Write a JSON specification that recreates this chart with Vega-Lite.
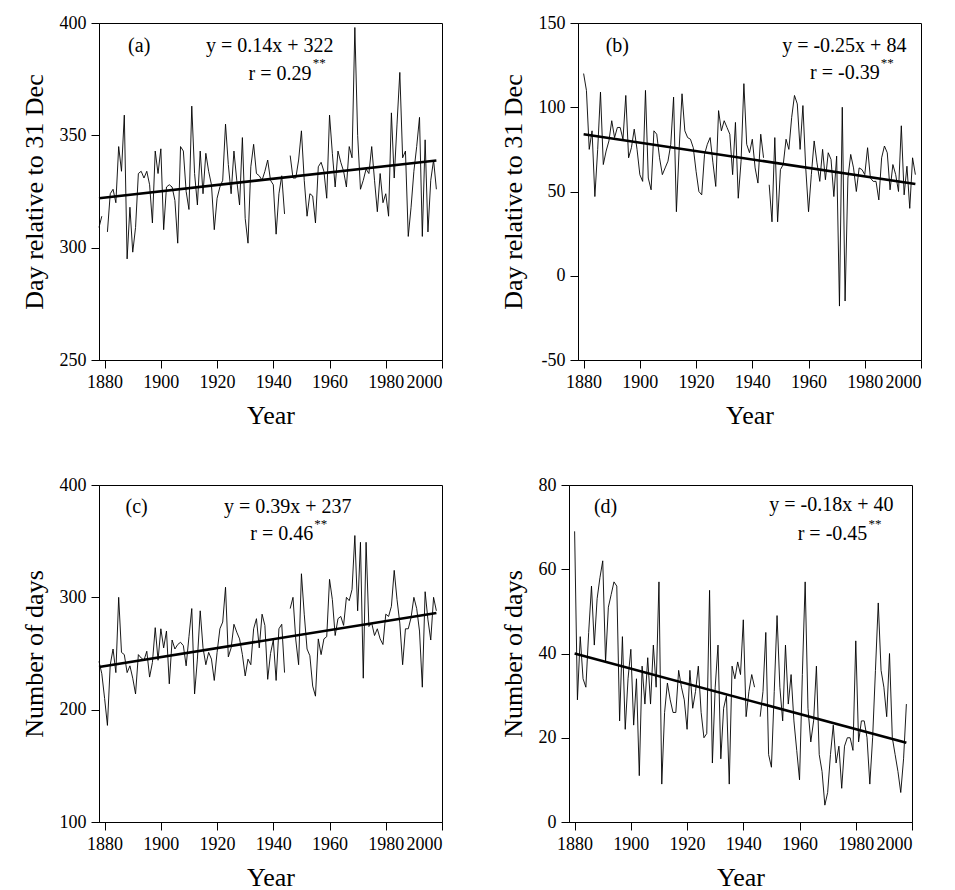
{
  "$schema": "https://vega.github.io/schema/vega-lite/v6.json",
  "padding": {"left": 20, "top": 13, "right": 0, "bottom": 0},
  "config": {
    "font": "Liberation Serif",
    "view": {"stroke": "black", "strokeWidth": 1},
    "axis": {"domainColor": "black", "tickColor": "black", "labelColor": "black", "titleColor": "black", "labelFont": "Liberation Serif", "titleFont": "Liberation Serif", "labelFontSize": 18, "titleFontSize": 26, "titleFontWeight": "normal", "grid": false, "tickSize": 8, "labelPadding": 5},
    "axisY": {"titlePadding": 12, "labelExpr": "replace(datum.label, '\u2212', '-')"},
    "axisX": {"titlePadding": 11},
    "text": {"font": "Liberation Serif", "fontSize": 20, "color": "black"}
  },
  "datasets": {
    "a": [
      {"year":1878,"v":309},{"year":1879,"v":314},{"year":1880,"v":null},{"year":1881,"v":307},{"year":1882,"v":324},{"year":1883,"v":326},{"year":1884,"v":320},{"year":1885,"v":345},{"year":1886,"v":334},{"year":1887,"v":359},{"year":1888,"v":295},{"year":1889,"v":318},{"year":1890,"v":298},{"year":1891,"v":309},{"year":1892,"v":333},{"year":1893,"v":334},{"year":1894,"v":331},{"year":1895,"v":334},{"year":1896,"v":328},{"year":1897,"v":311},{"year":1898,"v":343},{"year":1899,"v":333},{"year":1900,"v":344},{"year":1901,"v":308},{"year":1902,"v":327},{"year":1903,"v":328},{"year":1904,"v":327},{"year":1905,"v":321},{"year":1906,"v":302},{"year":1907,"v":345},{"year":1908,"v":343},{"year":1909,"v":325},{"year":1910,"v":317},{"year":1911,"v":363},{"year":1912,"v":333},{"year":1913,"v":319},{"year":1914,"v":343},{"year":1915,"v":324},{"year":1916,"v":342},{"year":1917,"v":334},{"year":1918,"v":328},{"year":1919,"v":308},{"year":1920,"v":322},{"year":1921,"v":327},{"year":1922,"v":330},{"year":1923,"v":355},{"year":1924,"v":337},{"year":1925,"v":324},{"year":1926,"v":343},{"year":1927,"v":330},{"year":1928,"v":319},{"year":1929,"v":349},{"year":1930,"v":313},{"year":1931,"v":302},{"year":1932,"v":336},{"year":1933,"v":346},{"year":1934,"v":333},{"year":1935,"v":332},{"year":1936,"v":330},{"year":1937,"v":334},{"year":1938,"v":339},{"year":1939,"v":330},{"year":1940,"v":328},{"year":1941,"v":306},{"year":1942,"v":324},{"year":1943,"v":332},{"year":1944,"v":315},{"year":1945,"v":null},{"year":1946,"v":341},{"year":1947,"v":331},{"year":1948,"v":331},{"year":1949,"v":339},{"year":1950,"v":352},{"year":1951,"v":330},{"year":1952,"v":314},{"year":1953,"v":324},{"year":1954,"v":323},{"year":1955,"v":311},{"year":1956,"v":336},{"year":1957,"v":338},{"year":1958,"v":334},{"year":1959,"v":322},{"year":1960,"v":359},{"year":1961,"v":342},{"year":1962,"v":327},{"year":1963,"v":343},{"year":1964,"v":338},{"year":1965,"v":334},{"year":1966,"v":327},{"year":1967,"v":345},{"year":1968,"v":340},{"year":1969,"v":398},{"year":1970,"v":350},{"year":1971,"v":326},{"year":1972,"v":330},{"year":1973,"v":335},{"year":1974,"v":333},{"year":1975,"v":345},{"year":1976,"v":330},{"year":1977,"v":316},{"year":1978,"v":333},{"year":1979,"v":320},{"year":1980,"v":324},{"year":1981,"v":314},{"year":1982,"v":360},{"year":1983,"v":331},{"year":1984,"v":355},{"year":1985,"v":378},{"year":1986,"v":340},{"year":1987,"v":343},{"year":1988,"v":305},{"year":1989,"v":318},{"year":1990,"v":334},{"year":1991,"v":345},{"year":1992,"v":358},{"year":1993,"v":305},{"year":1994,"v":348},{"year":1995,"v":307},{"year":1996,"v":330},{"year":1997,"v":339},{"year":1998,"v":326}
    ],
    "b": [
      {"year":1880,"v":120},{"year":1881,"v":110},{"year":1882,"v":75},{"year":1883,"v":86},{"year":1884,"v":47},{"year":1885,"v":75},{"year":1886,"v":109},{"year":1887,"v":66},{"year":1888,"v":74},{"year":1889,"v":80},{"year":1890,"v":92},{"year":1891,"v":82},{"year":1892,"v":88},{"year":1893,"v":88},{"year":1894,"v":81},{"year":1895,"v":107},{"year":1896,"v":70},{"year":1897,"v":76},{"year":1898,"v":87},{"year":1899,"v":75},{"year":1900,"v":60},{"year":1901,"v":56},{"year":1902,"v":110},{"year":1903,"v":58},{"year":1904,"v":51},{"year":1905,"v":86},{"year":1906,"v":84},{"year":1907,"v":70},{"year":1908,"v":60},{"year":1909,"v":64},{"year":1910,"v":68},{"year":1911,"v":78},{"year":1912,"v":106},{"year":1913,"v":38},{"year":1914,"v":76},{"year":1915,"v":108},{"year":1916,"v":86},{"year":1917,"v":82},{"year":1918,"v":81},{"year":1919,"v":76},{"year":1920,"v":62},{"year":1921,"v":50},{"year":1922,"v":48},{"year":1923,"v":72},{"year":1924,"v":78},{"year":1925,"v":82},{"year":1926,"v":67},{"year":1927,"v":53},{"year":1928,"v":98},{"year":1929,"v":86},{"year":1930,"v":92},{"year":1931,"v":88},{"year":1932,"v":84},{"year":1933,"v":60},{"year":1934,"v":91},{"year":1935,"v":46},{"year":1936,"v":68},{"year":1937,"v":114},{"year":1938,"v":78},{"year":1939,"v":73},{"year":1940,"v":81},{"year":1941,"v":64},{"year":1942,"v":55},{"year":1943,"v":84},{"year":1944,"v":70},{"year":1945,"v":null},{"year":1946,"v":54},{"year":1947,"v":32},{"year":1948,"v":82},{"year":1949,"v":32},{"year":1950,"v":63},{"year":1951,"v":66},{"year":1952,"v":81},{"year":1953,"v":75},{"year":1954,"v":94},{"year":1955,"v":107},{"year":1956,"v":102},{"year":1957,"v":75},{"year":1958,"v":101},{"year":1959,"v":64},{"year":1960,"v":38},{"year":1961,"v":60},{"year":1962,"v":80},{"year":1963,"v":67},{"year":1964,"v":56},{"year":1965,"v":75},{"year":1966,"v":57},{"year":1967,"v":73},{"year":1968,"v":69},{"year":1969,"v":47},{"year":1970,"v":71},{"year":1971,"v":-18},{"year":1972,"v":100},{"year":1973,"v":-15},{"year":1974,"v":58},{"year":1975,"v":72},{"year":1976,"v":64},{"year":1977,"v":50},{"year":1978,"v":64},{"year":1979,"v":63},{"year":1980,"v":60},{"year":1981,"v":76},{"year":1982,"v":58},{"year":1983,"v":56},{"year":1984,"v":56},{"year":1985,"v":45},{"year":1986,"v":70},{"year":1987,"v":77},{"year":1988,"v":73},{"year":1989,"v":51},{"year":1990,"v":66},{"year":1991,"v":60},{"year":1992,"v":50},{"year":1993,"v":89},{"year":1994,"v":48},{"year":1995,"v":65},{"year":1996,"v":40},{"year":1997,"v":70},{"year":1998,"v":60}
    ],
    "c": [
      {"year":1878,"v":243},{"year":1879,"v":232},{"year":1880,"v":210},{"year":1881,"v":186},{"year":1882,"v":240},{"year":1883,"v":254},{"year":1884,"v":233},{"year":1885,"v":300},{"year":1886,"v":251},{"year":1887,"v":249},{"year":1888,"v":233},{"year":1889,"v":239},{"year":1890,"v":228},{"year":1891,"v":214},{"year":1892,"v":249},{"year":1893,"v":246},{"year":1894,"v":244},{"year":1895,"v":252},{"year":1896,"v":229},{"year":1897,"v":242},{"year":1898,"v":273},{"year":1899,"v":244},{"year":1900,"v":272},{"year":1901,"v":255},{"year":1902,"v":270},{"year":1903,"v":223},{"year":1904,"v":262},{"year":1905,"v":254},{"year":1906,"v":258},{"year":1907,"v":260},{"year":1908,"v":257},{"year":1909,"v":239},{"year":1910,"v":265},{"year":1911,"v":290},{"year":1912,"v":214},{"year":1913,"v":245},{"year":1914,"v":288},{"year":1915,"v":255},{"year":1916,"v":240},{"year":1917,"v":251},{"year":1918,"v":245},{"year":1919,"v":226},{"year":1920,"v":251},{"year":1921,"v":272},{"year":1922,"v":278},{"year":1923,"v":309},{"year":1924,"v":247},{"year":1925,"v":255},{"year":1926,"v":276},{"year":1927,"v":269},{"year":1928,"v":263},{"year":1929,"v":249},{"year":1930,"v":230},{"year":1931,"v":245},{"year":1932,"v":240},{"year":1933,"v":272},{"year":1934,"v":281},{"year":1935,"v":255},{"year":1936,"v":285},{"year":1937,"v":275},{"year":1938,"v":227},{"year":1939,"v":250},{"year":1940,"v":262},{"year":1941,"v":226},{"year":1942,"v":272},{"year":1943,"v":276},{"year":1944,"v":233},{"year":1945,"v":null},{"year":1946,"v":290},{"year":1947,"v":300},{"year":1948,"v":262},{"year":1949,"v":240},{"year":1950,"v":321},{"year":1951,"v":285},{"year":1952,"v":254},{"year":1953,"v":248},{"year":1954,"v":221},{"year":1955,"v":212},{"year":1956,"v":263},{"year":1957,"v":249},{"year":1958,"v":263},{"year":1959,"v":265},{"year":1960,"v":316},{"year":1961,"v":298},{"year":1962,"v":266},{"year":1963,"v":281},{"year":1964,"v":283},{"year":1965,"v":275},{"year":1966,"v":300},{"year":1967,"v":297},{"year":1968,"v":307},{"year":1969,"v":355},{"year":1970,"v":288},{"year":1971,"v":349},{"year":1972,"v":228},{"year":1973,"v":349},{"year":1974,"v":274},{"year":1975,"v":277},{"year":1976,"v":266},{"year":1977,"v":272},{"year":1978,"v":263},{"year":1979,"v":258},{"year":1980,"v":285},{"year":1981,"v":283},{"year":1982,"v":292},{"year":1983,"v":324},{"year":1984,"v":298},{"year":1985,"v":277},{"year":1986,"v":240},{"year":1987,"v":272},{"year":1988,"v":272},{"year":1989,"v":282},{"year":1990,"v":300},{"year":1991,"v":290},{"year":1992,"v":270},{"year":1993,"v":220},{"year":1994,"v":305},{"year":1995,"v":280},{"year":1996,"v":262},{"year":1997,"v":300},{"year":1998,"v":288}
    ],
    "d": [
      {"year":1880,"v":69},{"year":1881,"v":29},{"year":1882,"v":44},{"year":1883,"v":34},{"year":1884,"v":32},{"year":1885,"v":45},{"year":1886,"v":56},{"year":1887,"v":42},{"year":1888,"v":53},{"year":1889,"v":58},{"year":1890,"v":62},{"year":1891,"v":38},{"year":1892,"v":51},{"year":1893,"v":54},{"year":1894,"v":57},{"year":1895,"v":56},{"year":1896,"v":24},{"year":1897,"v":44},{"year":1898,"v":22},{"year":1899,"v":34},{"year":1900,"v":41},{"year":1901,"v":23},{"year":1902,"v":34},{"year":1903,"v":11},{"year":1904,"v":37},{"year":1905,"v":28},{"year":1906,"v":39},{"year":1907,"v":28},{"year":1908,"v":42},{"year":1909,"v":32},{"year":1910,"v":57},{"year":1911,"v":9},{"year":1912,"v":26},{"year":1913,"v":33},{"year":1914,"v":29},{"year":1915,"v":26},{"year":1916,"v":26},{"year":1917,"v":36},{"year":1918,"v":32},{"year":1919,"v":29},{"year":1920,"v":22},{"year":1921,"v":36},{"year":1922,"v":27},{"year":1923,"v":31},{"year":1924,"v":37},{"year":1925,"v":26},{"year":1926,"v":20},{"year":1927,"v":21},{"year":1928,"v":55},{"year":1929,"v":14},{"year":1930,"v":32},{"year":1931,"v":42},{"year":1932,"v":15},{"year":1933,"v":27},{"year":1934,"v":30},{"year":1935,"v":9},{"year":1936,"v":37},{"year":1937,"v":34},{"year":1938,"v":38},{"year":1939,"v":35},{"year":1940,"v":48},{"year":1941,"v":25},{"year":1942,"v":31},{"year":1943,"v":35},{"year":1944,"v":32},{"year":1945,"v":null},{"year":1946,"v":25},{"year":1947,"v":31},{"year":1948,"v":45},{"year":1949,"v":16},{"year":1950,"v":13},{"year":1951,"v":31},{"year":1952,"v":49},{"year":1953,"v":32},{"year":1954,"v":24},{"year":1955,"v":42},{"year":1956,"v":28},{"year":1957,"v":35},{"year":1958,"v":24},{"year":1959,"v":17},{"year":1960,"v":10},{"year":1961,"v":35},{"year":1962,"v":57},{"year":1963,"v":27},{"year":1964,"v":19},{"year":1965,"v":24},{"year":1966,"v":37},{"year":1967,"v":16},{"year":1968,"v":12},{"year":1969,"v":4},{"year":1970,"v":7},{"year":1971,"v":16},{"year":1972,"v":23},{"year":1973,"v":14},{"year":1974,"v":18},{"year":1975,"v":8},{"year":1976,"v":18},{"year":1977,"v":20},{"year":1978,"v":20},{"year":1979,"v":17},{"year":1980,"v":43},{"year":1981,"v":19},{"year":1982,"v":24},{"year":1983,"v":24},{"year":1984,"v":20},{"year":1985,"v":9},{"year":1986,"v":20},{"year":1987,"v":36},{"year":1988,"v":52},{"year":1989,"v":36},{"year":1990,"v":32},{"year":1991,"v":25},{"year":1992,"v":40},{"year":1993,"v":20},{"year":1994,"v":16},{"year":1995,"v":12},{"year":1996,"v":7},{"year":1997,"v":15},{"year":1998,"v":28}
    ],
    "fa": [{"year":1878,"v":322},{"year":1998,"v":338.8}],
    "fb": [{"year":1880,"v":84},{"year":1998,"v":54.5}],
    "fc": [{"year":1878,"v":238},{"year":1998,"v":286}],
    "fd": [{"year":1880,"v":40},{"year":1998,"v":18.8}]
  },
  "spacing": 46,
  "vconcat": [
    {
      "spacing": 56,
      "hconcat": [
        {
          "width": 343, "height": 337,
          "layer": [
            {"data": {"name": "a"}, "mark": {"type": "line", "color": "black", "strokeWidth": 0.9, "invalid": "break-paths-filter-domains"},
             "encoding": {
               "x": {"field": "year", "type": "quantitative", "scale": {"domain": [1878, 2000], "nice": false, "zero": false}, "axis": {"values": [1880,1900,1920,1940,1960,1980,2000], "format": "d", "title": "Year"}},
               "y": {"field": "v", "type": "quantitative", "scale": {"domain": [250, 400], "nice": false, "zero": false}, "axis": {"values": [250,300,350,400], "title": "Day relative to 31 Dec"}}
             }},
            {"data": {"name": "fa"}, "mark": {"type": "line", "color": "black", "strokeWidth": 2.6}, "encoding": {"x": {"field": "year", "type": "quantitative"}, "y": {"field": "v", "type": "quantitative"}}},
            {"data": {"values": [{"t": "(a)"}]}, "mark": {"type": "text", "align": "center", "baseline": "middle"}, "encoding": {"x": {"datum": 1892.3}, "y": {"datum": 389.8}, "text": {"field": "t"}}},
            {"data": {"values": [{"t": "y = 0.14x + 322"}]}, "mark": {"type": "text", "align": "right", "baseline": "middle"}, "encoding": {"x": {"datum": 1961.4}, "y": {"datum": 389.8}, "text": {"field": "t"}}},
            {"data": {"values": [{"t": "r = 0.29"}]}, "mark": {"type": "text", "align": "right", "baseline": "middle"}, "encoding": {"x": {"datum": 1953.6}, "y": {"datum": 377.3}, "text": {"field": "t"}}},
            {"data": {"values": [{"t": "**"}]}, "mark": {"type": "text", "align": "left", "baseline": "middle", "fontSize": 13}, "encoding": {"x": {"datum": 1954.0}, "y": {"datum": 382.0}, "text": {"field": "t"}}}
          ]
        },
        {
          "width": 343, "height": 337,
          "layer": [
            {"data": {"name": "b"}, "mark": {"type": "line", "color": "black", "strokeWidth": 0.9, "invalid": "break-paths-filter-domains"},
             "encoding": {
               "x": {"field": "year", "type": "quantitative", "scale": {"domain": [1878, 2000], "nice": false, "zero": false}, "axis": {"values": [1880,1900,1920,1940,1960,1980,2000], "format": "d", "title": "Year"}},
               "y": {"field": "v", "type": "quantitative", "scale": {"domain": [-50, 150], "nice": false, "zero": false}, "axis": {"values": [-50,0,50,100,150], "title": "Day relative to 31 Dec"}}
             }},
            {"data": {"name": "fb"}, "mark": {"type": "line", "color": "black", "strokeWidth": 2.6}, "encoding": {"x": {"field": "year", "type": "quantitative"}, "y": {"field": "v", "type": "quantitative"}}},
            {"data": {"values": [{"t": "(b)"}]}, "mark": {"type": "text", "align": "center", "baseline": "middle"}, "encoding": {"x": {"datum": 1892}, "y": {"datum": 136.4}, "text": {"field": "t"}}},
            {"data": {"values": [{"t": "y = -0.25x + 84"}]}, "mark": {"type": "text", "align": "right", "baseline": "middle"}, "encoding": {"x": {"datum": 1994.8}, "y": {"datum": 136.4}, "text": {"field": "t"}}},
            {"data": {"values": [{"t": "r = -0.39"}]}, "mark": {"type": "text", "align": "right", "baseline": "middle"}, "encoding": {"x": {"datum": 1985.3}, "y": {"datum": 120.6}, "text": {"field": "t"}}},
            {"data": {"values": [{"t": "**"}]}, "mark": {"type": "text", "align": "left", "baseline": "middle", "fontSize": 13}, "encoding": {"x": {"datum": 1985.7}, "y": {"datum": 126.5}, "text": {"field": "t"}}}
          ]
        }
      ]
    },
    {
      "spacing": 56,
      "hconcat": [
        {
          "width": 343, "height": 337,
          "layer": [
            {"data": {"name": "c"}, "mark": {"type": "line", "color": "black", "strokeWidth": 0.9, "invalid": "break-paths-filter-domains"},
             "encoding": {
               "x": {"field": "year", "type": "quantitative", "scale": {"domain": [1878, 2000], "nice": false, "zero": false}, "axis": {"values": [1880,1900,1920,1940,1960,1980,2000], "format": "d", "title": "Year"}},
               "y": {"field": "v", "type": "quantitative", "scale": {"domain": [100, 400], "nice": false, "zero": false}, "axis": {"values": [100,200,300,400], "title": "Number of days"}}
             }},
            {"data": {"name": "fc"}, "mark": {"type": "line", "color": "black", "strokeWidth": 2.6}, "encoding": {"x": {"field": "year", "type": "quantitative"}, "y": {"field": "v", "type": "quantitative"}}},
            {"data": {"values": [{"t": "(c)"}]}, "mark": {"type": "text", "align": "center", "baseline": "middle"}, "encoding": {"x": {"datum": 1891.4}, "y": {"datum": 380.4}, "text": {"field": "t"}}},
            {"data": {"values": [{"t": "y = 0.39x + 237"}]}, "mark": {"type": "text", "align": "right", "baseline": "middle"}, "encoding": {"x": {"datum": 1967.8}, "y": {"datum": 380.4}, "text": {"field": "t"}}},
            {"data": {"values": [{"t": "r = 0.46"}]}, "mark": {"type": "text", "align": "right", "baseline": "middle"}, "encoding": {"x": {"datum": 1954.2}, "y": {"datum": 356.5}, "text": {"field": "t"}}},
            {"data": {"values": [{"t": "**"}]}, "mark": {"type": "text", "align": "left", "baseline": "middle", "fontSize": 13}, "encoding": {"x": {"datum": 1954.6}, "y": {"datum": 365}, "text": {"field": "t"}}}
          ]
        },
        {
          "width": 343, "height": 337,
          "layer": [
            {"data": {"name": "d"}, "mark": {"type": "line", "color": "black", "strokeWidth": 0.9, "invalid": "break-paths-filter-domains"},
             "encoding": {
               "x": {"field": "year", "type": "quantitative", "scale": {"domain": [1878, 2000], "nice": false, "zero": false}, "axis": {"values": [1880,1900,1920,1940,1960,1980,2000], "format": "d", "title": "Year"}},
               "y": {"field": "v", "type": "quantitative", "scale": {"domain": [0, 80], "nice": false, "zero": false}, "axis": {"values": [0,20,40,60,80], "title": "Number of days"}}
             }},
            {"data": {"name": "fd"}, "mark": {"type": "line", "color": "black", "strokeWidth": 2.6}, "encoding": {"x": {"field": "year", "type": "quantitative"}, "y": {"field": "v", "type": "quantitative"}}},
            {"data": {"values": [{"t": "(d)"}]}, "mark": {"type": "text", "align": "center", "baseline": "middle"}, "encoding": {"x": {"datum": 1891}, "y": {"datum": 74.8}, "text": {"field": "t"}}},
            {"data": {"values": [{"t": "y = -0.18x + 40"}]}, "mark": {"type": "text", "align": "right", "baseline": "middle"}, "encoding": {"x": {"datum": 1993.4}, "y": {"datum": 75.2}, "text": {"field": "t"}}},
            {"data": {"values": [{"t": "r = -0.45"}]}, "mark": {"type": "text", "align": "right", "baseline": "middle"}, "encoding": {"x": {"datum": 1984.1}, "y": {"datum": 68.4}, "text": {"field": "t"}}},
            {"data": {"values": [{"t": "**"}]}, "mark": {"type": "text", "align": "left", "baseline": "middle", "fontSize": 13}, "encoding": {"x": {"datum": 1984.5}, "y": {"datum": 70.8}, "text": {"field": "t"}}}
          ]
        }
      ]
    }
  ]
}
